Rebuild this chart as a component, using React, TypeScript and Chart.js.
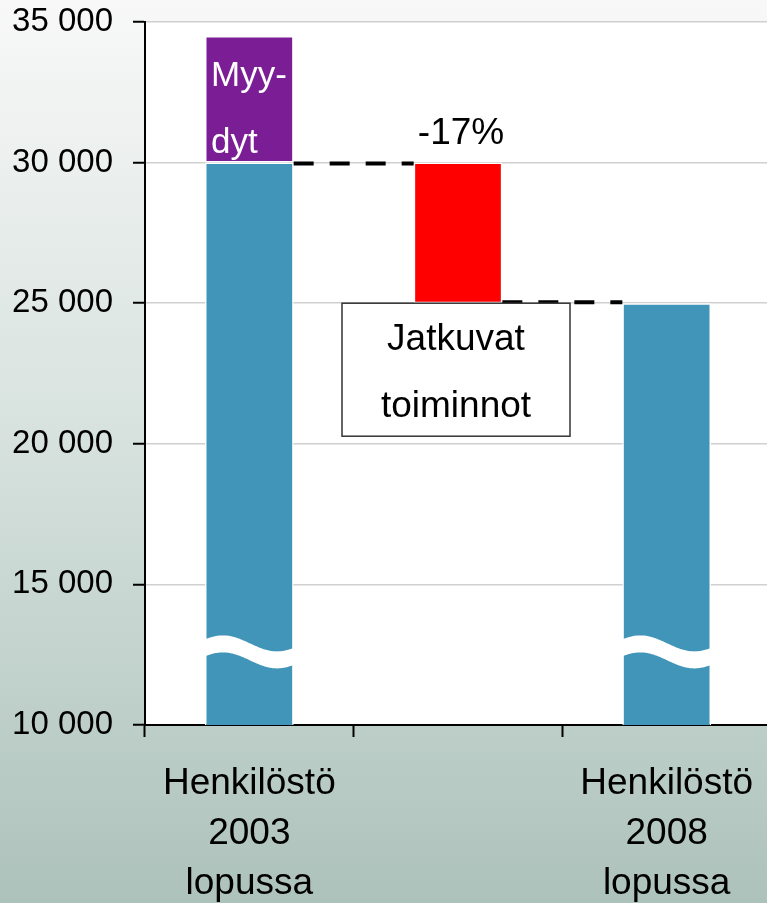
import React, { useEffect, useRef } from "react";
import { Chart, registerables } from "chart.js";

Chart.register(...registerables);

// ---- data ----
const categories: (string | string[])[] = [
  ["Henkilöstö", "2003", "lopussa"],
  "",
  ["Henkilöstö", "2008", "lopussa"],
];
const continuingStaff: (number | null)[] = [30000, null, 25000];
const divestedStaff: ([number, number] | null)[] = [[30000, 34500], null, null];
const changeSeries: ([number, number] | null)[] = [null, [25000, 30000], null];
const yMin = 10000;
const yMax = 35000;
const yStep = 5000;
const changeLabel = "-17%";
const divestedLabel = ["Myy-", "dyt"];
const continuingLabel = ["Jatkuvat", "toiminnot"];
const breakValue = 12600;

const FONT = "'Liberation Sans', Arial, sans-serif";

const fmt = (v: number) => {
  const s = Math.round(v).toString();
  return s.replace(/\B(?=(\d{3})+(?!\d))/g, " ");
};

const bgPlugin = {
  id: "bgPlugin",
  beforeDraw(chart: any) {
    const { ctx, width, height, chartArea } = chart;
    ctx.save();
    const g = ctx.createLinearGradient(0, 0, 0, height);
    g.addColorStop(0, "#f8f8f8");
    g.addColorStop(0.48, "#d7e2de");
    g.addColorStop(1, "#adc2bb");
    ctx.fillStyle = g;
    ctx.fillRect(0, 0, width, height);
    ctx.fillStyle = "#ffffff";
    ctx.fillRect(chartArea.left, chartArea.top, chartArea.right - chartArea.left, chartArea.bottom - chartArea.top);
    ctx.restore();
  },
};

const overlayPlugin = {
  id: "overlayPlugin",
  afterDatasetsDraw(chart: any) {
    const { ctx } = chart;
    const y = chart.scales.y;
    const blue = chart.getDatasetMeta(0).data;
    const purple = chart.getDatasetMeta(1).data;
    const red = chart.getDatasetMeta(2).data;
    ctx.save();

    // axis break waves on the blue bars
    const yc = y.getPixelForValue(breakValue);
    [blue[0], blue[2]].forEach((el: any) => {
      if (!el) return;
      const left = el.x - el.width / 2 - 1;
      const right = el.x + el.width / 2 + 1;
      const off = (x: number) => -8 * Math.cos((2 * Math.PI * (x - (left + 19))) / 108);
      ctx.beginPath();
      for (let x = left; x <= right; x += 1) {
        const yy = yc - 8.5 + off(x);
        if (x === left) ctx.moveTo(x, yy);
        else ctx.lineTo(x, yy);
      }
      for (let x = right; x >= left; x -= 1) {
        ctx.lineTo(x, yc + 8.5 + off(x));
      }
      ctx.closePath();
      ctx.fillStyle = "#ffffff";
      ctx.fill();
    });

    // dashed connectors
    const r = red[1];
    ctx.strokeStyle = "#000000";
    ctx.lineWidth = 4;
    ctx.setLineDash([20, 16]);
    const y30 = y.getPixelForValue(changeSeries[1]![1]) + 1;
    const y25 = y.getPixelForValue(changeSeries[1]![0]) - 1;
    ctx.beginPath();
    ctx.moveTo(blue[0].x + blue[0].width / 2, y30);
    ctx.lineTo(r.x - r.width / 2, y30);
    ctx.stroke();
    ctx.beginPath();
    ctx.moveTo(r.x + r.width / 2, y25);
    ctx.lineTo(blue[2].x - blue[2].width / 2, y25);
    ctx.stroke();
    ctx.setLineDash([]);

    // divested label inside purple bar
    const p = purple[0];
    const pTop = Math.min(p.y, p.base);
    ctx.fillStyle = "#ffffff";
    ctx.font = `35px ${FONT}`;
    ctx.textAlign = "left";
    ctx.textBaseline = "alphabetic";
    ctx.fillText(divestedLabel[0], p.x - p.width / 2 + 6, pTop + 50);
    ctx.fillText(divestedLabel[1], p.x - p.width / 2 + 6, pTop + 117);

    // change label
    const rTop = Math.min(r.y, r.base);
    const rBottom = Math.max(r.y, r.base);
    ctx.fillStyle = "#000000";
    ctx.font = `37px ${FONT}`;
    ctx.textAlign = "center";
    ctx.fillText(changeLabel, r.x + 3, rTop - 19);

    // continuing operations box
    const bw = 228;
    const bh = 133;
    const bx = r.x - 2 - bw / 2;
    const by = rBottom;
    ctx.fillStyle = "#ffffff";
    ctx.fillRect(bx, by, bw, bh);
    ctx.strokeStyle = "#333333";
    ctx.lineWidth = 1.5;
    ctx.strokeRect(bx, by, bw, bh);
    ctx.fillStyle = "#000000";
    ctx.fillText(continuingLabel[0], bx + bw / 2, by + 47);
    ctx.fillText(continuingLabel[1], bx + bw / 2, by + 114);

    ctx.restore();
  },
};

export default function App() {
  const ref = useRef<HTMLCanvasElement | null>(null);
  useEffect(() => {
    if (!ref.current) return;
    const barOpts = {
      grouped: false,
      barPercentage: 0.425,
      categoryPercentage: 1,
      borderColor: "#ffffff",
      borderWidth: 1.5,
    };
    const chart = new Chart(ref.current, {
      type: "bar",
      data: {
        labels: categories as any,
        datasets: [
          { ...barOpts, label: "Jatkuvat", data: continuingStaff as any, backgroundColor: "#4195b9", borderSkipped: "start" },
          { ...barOpts, label: "Myydyt", data: divestedStaff as any, backgroundColor: "#7b1e96", borderSkipped: false },
          { ...barOpts, label: "Muutos", data: changeSeries as any, backgroundColor: "#ff0000", borderSkipped: false },
        ] as any,
      },
      options: {
        animation: false,
        responsive: false,
        devicePixelRatio: 1,
        layout: { padding: { top: 22, left: 0, right: 0, bottom: 0 } },
        plugins: { legend: { display: false }, tooltip: { enabled: false } },
        scales: {
          x: {
            offset: true,
            grid: {
              offset: true,
              drawOnChartArea: false,
              color: "#000000",
              tickColor: "#000000",
              tickLength: 12,
              tickWidth: 2,
            },
            border: { color: "#000000", width: 2 },
            ticks: {
              color: "#000000",
              font: { family: FONT, size: 37, lineHeight: 1.35 },
              padding: 22,
              maxRotation: 0,
              autoSkip: false,
            },
            afterFit: (s: any) => {
              s.height = 178;
              s.paddingLeft = 0;
              s.paddingRight = 0;
              s.paddingTop = 0;
              s.paddingBottom = 0;
            },
          },
          y: {
            min: yMin,
            max: yMax,
            grid: {
              color: "#d0d0d0",
              lineWidth: 1.5,
              tickColor: "#000000",
              tickLength: 12,
              tickWidth: 2,
            },
            border: { color: "#000000", width: 2 },
            ticks: {
              stepSize: yStep,
              color: "#000000",
              font: { family: FONT, size: 33 },
              padding: 20,
              callback: (v: any) => fmt(Number(v)),
            },
            afterFit: (s: any) => {
              s.width = 145;
              s.paddingTop = 0;
              s.paddingBottom = 0;
              s.paddingLeft = 0;
              s.paddingRight = 0;
            },
          },
        },
      },
      plugins: [bgPlugin, overlayPlugin],
    });
    return () => chart.destroy();
  }, []);
  return (
    <div style={{ position: "absolute", left: 0, top: 0, width: 767, height: 903, overflow: "hidden" }}>
      <canvas ref={ref} width={771} height={903} style={{ display: "block", width: 771, height: 903 }} />
    </div>
  );
}
